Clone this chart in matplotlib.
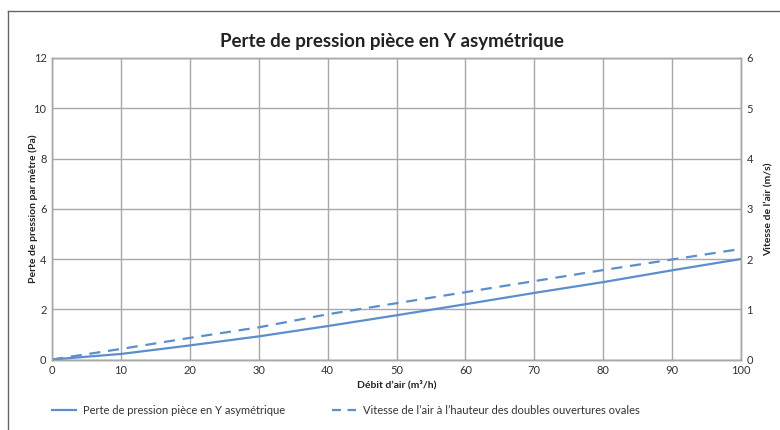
import matplotlib
matplotlib.use('Agg')
import matplotlib.pyplot as plt
from matplotlib.lines import Line2D

# data
debit = [0, 10, 20, 30, 40, 50, 60, 70, 80, 90, 100]
perte = [0, 0.22, 0.56, 0.92, 1.33, 1.76, 2.2, 2.65, 3.08, 3.55, 4.0]
vitesse = [0, 0.21, 0.43, 0.64, 0.9, 1.12, 1.34, 1.56, 1.78, 1.99, 2.2]

x_ticks = [0, 10, 20, 30, 40, 50, 60, 70, 80, 90, 100]
y_ticks = [0, 2, 4, 6, 8, 10, 12]
y2_ticks = [0, 1, 2, 3, 4, 5, 6]

titre = 'Perte de pression pièce en Y asymétrique'
label_perte = 'Perte de pression pièce en Y asymétrique'
label_vitesse = "Vitesse de l’air à l’hauteur des doubles ouvertures ovales"

plt.rcParams['font.family'] = ['Lato', 'DejaVu Sans']
blue = '#5b8fcb'
grid_col = '#a8a8a8'
txt_col = '#333333'

fig = plt.figure(figsize=(7.8, 4.3), dpi=100)
ax = fig.add_axes([52/780, 1 - 359.5/430, (741-52)/780, (359.5-58)/430])
ax2 = ax.twinx()

ax.plot(debit, perte, color=blue, lw=1.6)
ax2.plot(debit, vitesse, color=blue, lw=1.6, ls=(0, (5, 3.5)))

ax.set_xlim(0, 100)
ax.set_ylim(0, 12)
ax2.set_ylim(0, 6)
ax.set_xticks(x_ticks)
ax.set_yticks(y_ticks)
ax2.set_yticks(y2_ticks)
ax.grid(True, color=grid_col, lw=1)
ax.set_axisbelow(True)

for a in (ax, ax2):
    a.tick_params(length=0, labelsize=8, colors=txt_col, pad=4)
    for s in a.spines.values():
        s.set_color(grid_col)
        s.set_linewidth(1)
ax.spines['bottom'].set_color('#888888')

ax.set_xlabel('Débit d’air (m³/h)', fontsize=7.5, fontweight='bold', color='#222222', labelpad=3)
ax.set_ylabel('Perte de pression par mètre (Pa)', fontsize=7.5, fontweight='bold', color='#222222', labelpad=-3)
ax2.set_ylabel('Vitesse de l’air (m/s)', fontsize=7.5, fontweight='bold', color='#222222', labelpad=8)

fig.text(392/780, 1 - 42/430, titre, ha='center', va='center', fontsize=13.5, fontweight='bold', color='#222222')

# legend drawn below the axes
leg_handles = [Line2D([], [], color=blue, lw=1.6),
               Line2D([], [], color=blue, lw=1.6, ls=(0, (4, 3)))]
fig.legend(leg_handles, [label_perte, label_vitesse], loc='center left',
           bbox_to_anchor=(42/780, 1 - 410/430), ncol=2, frameon=False,
           fontsize=8, handlelength=2.2, handletextpad=0.6, columnspacing=4.2,
           labelcolor=txt_col)

# frame lines at top and left of the figure
fig.add_artist(Line2D([8/780, 1], [1 - 11/430, 1 - 11/430], color='#666666', lw=1))
fig.add_artist(Line2D([8/780, 8/780], [0, 1 - 11/430], color='#666666', lw=1))

fig.savefig('out.png', dpi=100)
